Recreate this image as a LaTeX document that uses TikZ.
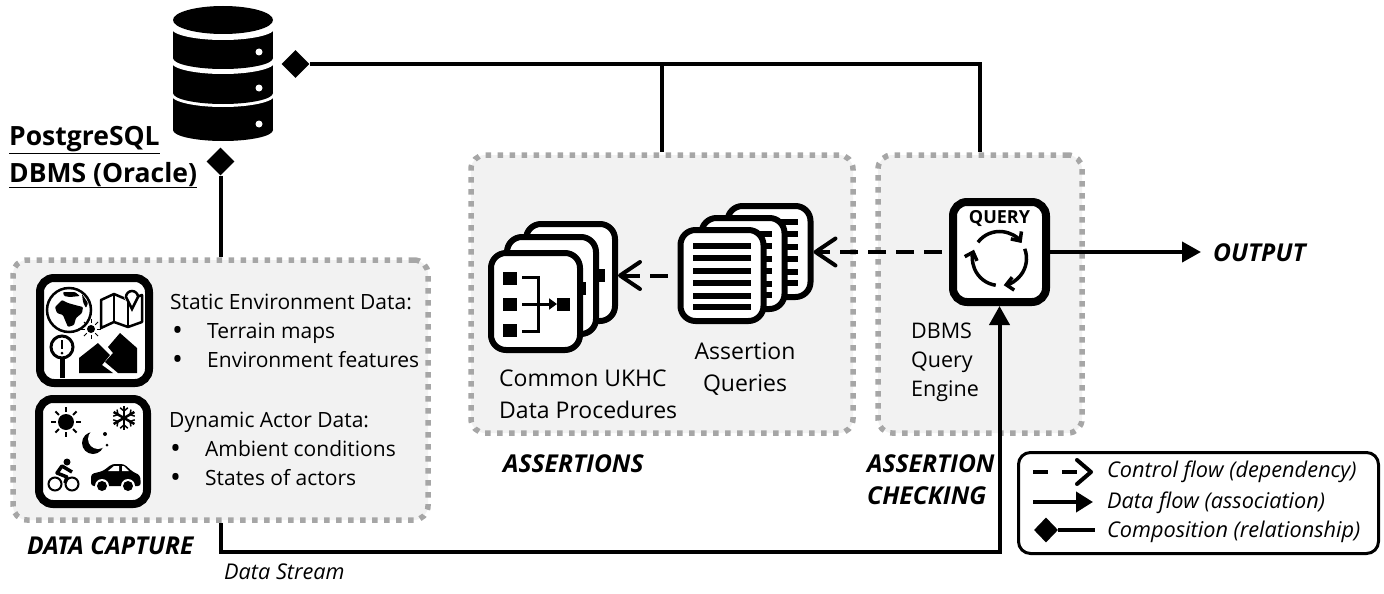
\documentclass[tikz,border=0pt]{standalone}
\usepackage{fontspec}
\setmainfont{Open Sans}
\usetikzlibrary{arrows.meta,shapes.geometric}

\tikzset{
	panel/.style={draw=panelgray, fill=panelfill, line width=5.5pt, dash pattern=on 5.5pt off 6.5pt, rounded corners=14pt},
	iconbox/.style={draw=black, fill=white, line width=8pt, rounded corners=14pt, inner sep=0pt},
	pagebox/.style={draw=black, fill=white, line width=6pt, rounded corners=15pt, inner sep=0pt, minimum width=83pt, minimum height=91pt},
	lbl/.style={font=\fontsize{21}{26}\selectfont, anchor=base west, inner sep=0pt},
	dotlbl/.style={font=\fontsize{29}{30}\selectfont, anchor=base west, inner sep=0pt},
	sublbl/.style={font=\fontsize{21.5}{26}\selectfont, anchor=base west, inner sep=0pt},
	stacklbl/.style={font=\fontsize{23}{28}\selectfont, anchor=base west, inner sep=0pt},
	keylbl/.style={font=\fontsize{21.7}{26}\selectfont\itshape, anchor=base west, inner sep=0pt},
	headlbl/.style={font=\fontsize{24.6}{29}\selectfont\bfseries\itshape, anchor=base west, inner sep=0pt},
	dbmslbl/.style={font=\fontsize{26.5}{32}\selectfont\bfseries, anchor=base west, inner sep=0pt},
	comp/.style={diamond, fill=black, inner sep=0pt, minimum width=28pt, minimum height=28pt},
	assoc/.style={line width=4pt},
	dataflow/.style={line width=4pt, -{Triangle[length=19pt,width=20pt]}},
	ctrlflow/.style={line width=4pt, dash pattern=on 18pt off 10pt, -{Straight Barb[length=20pt,width=27pt,round]}},
	loopflow/.style={line width=3.5pt, -{Straight Barb[length=7pt,width=13pt]}},
}
\definecolor{panelgray}{HTML}{A6A6A6}
\definecolor{panelfill}{HTML}{F2F2F2}

\begin{document}
\begin{tikzpicture}[x=1pt,y=-1pt]
	\useasboundingbox (0,0) rectangle (1384,594);

	% panels
	\node[panel, minimum width=415pt, minimum height=260pt] (capture) at (220.5,390) {};
	\node[panel, minimum width=382pt, minimum height=278pt] (assertions) at (662,294) {};
	\node[panel, minimum width=204pt, minimum height=278pt] (checking) at (980,294) {};

	% database
	\fill (173,98) rectangle (273,130);
	\fill (223,130) ellipse [x radius=50, y radius=11];
	\fill[white] (223,95) ellipse [x radius=52, y radius=12];
	\fill (173,63) rectangle (273,93);
	\fill (223,93) ellipse [x radius=50, y radius=11];
	\fill[white] (223,62) ellipse [x radius=52, y radius=12];
	\fill (173,28) rectangle (273,58);
	\fill (223,58) ellipse [x radius=50, y radius=11];
	\fill[white] (223,28) ellipse [x radius=52, y radius=12];
	\fill (223,20) ellipse [x radius=50, y radius=14];
	\foreach \y in {52,88,124}
		\fill[white] (259,\y) circle (3.5);

	\node[dbmslbl] (dbmsa) at (9,145) {\underline{PostgreSQL}};
	\node[dbmslbl] (dbmsb) at (9,182) {\underline{DBMS (Oracle)}};

	% composition diamonds
	\node[comp] (dbright) at (295.5,64) {};
	\node[comp] (dbdown) at (220.5,161.5) {};

	% query box
	\node[iconbox, minimum width=93pt, minimum height=100pt] (query) at (999.5,252) {};
	\node[inner sep=0pt, font=\fontsize{18}{21}\selectfont\bfseries] (querytxt) at (999.5,219) {QUERY};
	\draw[loopflow] (999.5,258.5) ++(-143:27) arc[start angle=-143, end angle=-35, radius=27];
	\draw[loopflow] (999.5,258.5) ++(-21:27) arc[start angle=-21, end angle=81, radius=27];
	\draw[loopflow] (999.5,258.5) ++(98:27) arc[start angle=98, end angle=199, radius=27];
	\node[sublbl] (enginea) at (911,338) {DBMS};
	\node[sublbl] (engineb) at (911,367) {Query};
	\node[sublbl] (enginec) at (911,396) {Engine};

	% assertion queries
	\foreach \dx/\dy/\name in {47/-24/back,21/-12/mid,0/0/front} {
		\node[pagebox] (aq\name) at (722+\dx,275.5+\dy) {};
		\foreach \ly in {246,258,271,283,296,307}
			\draw[line width=6pt] (693+\dx,\ly+\dy) -- (751+\dx,\ly+\dy);
	}

	% data procedures
	\foreach \dx/\dy/\name in {35/-29/back,16/-16/mid,0/0/front} {
		\node[pagebox, minimum width=89pt, minimum height=97pt] (cp\name) at (535.5+\dx,301.5+\dy) {};
		\foreach \ly in {278.5,304,330}
			\fill (503+\dx,\ly-6.5+\dy) rectangle (517+\dx,\ly+6.5+\dy);
		\fill (557+\dx,297.5+\dy) rectangle (570+\dx,310.5+\dy);
		\draw[line width=3pt] (522+\dx,277+\dy) -- (538+\dx,277+\dy) -- (538+\dx,331+\dy) -- (522+\dx,331+\dy);
		\draw[line width=3pt, -{Triangle[length=8pt,width=11pt]}] (522+\dx,304+\dy) -- (557+\dx,304+\dy);
	}

	\node[stacklbl] (cpa) at (499,386) {Common UKHC};
	\node[stacklbl] (cpb) at (499,418) {Data Procedures};
	\node[stacklbl, anchor=base] (aqa) at (745,359) {Assertion};
	\node[stacklbl, anchor=base] (aqb) at (745,391) {Queries};

	% static data icon
	\node[iconbox, minimum width=109pt, minimum height=105pt] (staticbox) at (94.5,330.5) {};
	\draw[line width=2.5pt] (69,310) circle (22);
	\fill[rounded corners=1pt] (55,307) -- (62,300) -- (68,303) -- (75,305) -- (83,307) -- (82,313) -- (76,318) -- (74,325) -- (68,327) -- (65,320) -- (63,315) -- (57,313) -- cycle;
	\fill[rounded corners=1pt] (63,292) -- (75,292) -- (80,296) -- (70,297) -- (64,296) -- cycle;
	\fill[rounded corners=1pt] (82,294) -- (88,303) -- (86,308) -- (83,302) -- cycle;
	\draw[line width=2.5pt, line join=round] (101,300) -- (114,294) -- (128,300) -- (142,295) -- (142,322) -- (128,327) -- (114,322) -- (101,328) -- cycle;
	\draw[line width=2pt] (114,294) -- (114,322) (128,300) -- (128,327);
	\fill[white] (131,296) circle (7);
	\draw[line width=2.5pt, fill=white] (132,309) -- (126,297) arc[start angle=180, end angle=360, radius=6] -- cycle;
	\fill (91,329) circle (4);
	\foreach \a in {0,45,...,315}
		\draw[line width=1pt] (91,329) ++(\a:6) -- ++(\a:4);
	\draw[line width=3pt] (62,347) circle (11);
	\draw[line width=5pt] (62,358) -- (62,378);
	\draw[line width=2.5pt] (62,340) -- (62,349);
	\fill (62,353) circle (1.5);
	\fill (79,358) -- (98,343) -- (110,355) -- (102,365) -- (113,373) -- (79,373) -- cycle;
	\fill (120,333) -- (137,348) -- (137,373) -- (118,373) -- (105,362) -- (113,353) -- (108,347) -- cycle;

	% dynamic data icon
	\node[iconbox, minimum width=108pt, minimum height=105pt] (dynamicbox) at (93,451.5) {};
	\fill (66,422) circle (8);
	\foreach \a in {0,45,...,315}
		\draw[line width=2pt] (66,422) ++(\a:10) -- ++(\a:5);
	\foreach \a in {30,90,...,330} {
		\draw[line width=2.5pt] (124,418) -- ++(\a:12);
		\draw[line width=1.5pt] (124,418) ++(\a:7) -- ++(\a+50:5);
		\draw[line width=1.5pt] (124,418) ++(\a:7) -- ++(\a-50:5);
	}
	\fill (93,443) circle (11);
	\fill[white] (98,439) circle (10);
	\fill (105,434) circle (2);
	\fill (107,445) circle (1.5);
	\draw[line width=2pt] (55,484) circle (6.5) (72,484) circle (6.5);
	\fill (67,462) circle (3.5);
	\draw[line width=3.5pt, line join=round] (72,472) -- (62,466) -- (57,473) -- (67,477) -- (65,483);
	\fill[rounded corners=3pt] (91,486) -- (91,474) -- (103,471) -- (112,464) -- (124,464) -- (133,472) -- (140,475) -- (141,486) -- cycle;
	\fill[white] (108,471) -- (114,466) -- (119,466) -- (119,471) -- cycle;
	\fill[white] (122,466) -- (124,466) -- (129,471) -- (122,471) -- cycle;
	\foreach \x in {102,128} {
		\fill[white] (\x,486) circle (7);
		\fill (\x,486) circle (5);
	}

	% capture text
	\node[lbl] (staticd) at (170,309) {Static Environment Data:};
	\node[dotlbl] (staticb) at (172,340) {•};
	\node[lbl] (terrain) at (207,338) {Terrain maps};
	\node[dotlbl] (staticc) at (172,369) {•};
	\node[lbl] (envfeat) at (207,367) {Environment features};
	\node[lbl] (dynamicd) at (169,427) {Dynamic Actor Data:};
	\node[dotlbl] (dynamicb) at (170,458) {•};
	\node[lbl] (ambient) at (205,456) {Ambient conditions};
	\node[dotlbl] (dynamicc) at (170,487) {•};
	\node[lbl] (states) at (205,485) {States of actors};

	% panel titles
	\node[headlbl] (capturet) at (27,554) {DATA CAPTURE};
	\node[headlbl] (assertt) at (503,472) {ASSERTIONS};
	\node[headlbl] (checka) at (867,472) {ASSERTION};
	\node[headlbl] (checkb) at (867,504) {CHECKING};
	\node[headlbl] (output) at (1213,261) {OUTPUT};
	\node[keylbl] (stream) at (224,579) {Data Stream};

	% connectors
	\coordinate (outend) at (1201,252);
	\coordinate (streama) at (220.5,552);
	\coordinate (streamb) at (999.5,552);

	\draw[assoc] (dbright.east) -- (dbright.east -| checking.north) -- (checking.north);
	\draw[assoc] (dbright.east -| assertions.north) -- (assertions.north);
	\draw[assoc] (dbdown.south) -- (capture.north);
	\draw[dataflow] (query.east) -- (outend);
	\draw[dataflow] (capture.south) -- (streama) -- (streamb) -- (query.south);
	\draw[ctrlflow, dash phase=21pt] (query.west) -- (query.west -| aqback.east);
	\draw[ctrlflow, dash phase=18pt] (aqfront.west) -- (aqfront.west -| cpback.east);

	% legend
	\node[draw=black, line width=3pt, rounded corners=12pt, minimum width=360pt, minimum height=101pt] (legend) at (1198.5,503) {};
	\coordinate (ctrla) at (1033,472);
	\coordinate (ctrlb) at (1093,472);
	\coordinate (dataa) at (1033,502);
	\coordinate (datab) at (1093,502);
	\coordinate (compb) at (1095,530);
	\node[comp, minimum width=24pt, minimum height=25pt] (compa) at (1046,530) {};
	\draw[line width=4pt, dash pattern=on 15pt off 14pt, -{Straight Barb[length=14pt,width=24pt,round]}] (ctrla) -- (ctrlb);
	\draw[line width=4pt, -{Triangle[length=17pt,width=20pt]}] (dataa) -- (datab);
	\draw[assoc] (compa) -- (compb);
	\node[keylbl] (ctrlt) at (1107,477) {Control flow (dependency)};
	\node[keylbl] (datat) at (1107,508) {Data flow (association)};
	\node[keylbl] (compt) at (1107,537) {Composition (relationship)};

\end{tikzpicture}
\end{document}
